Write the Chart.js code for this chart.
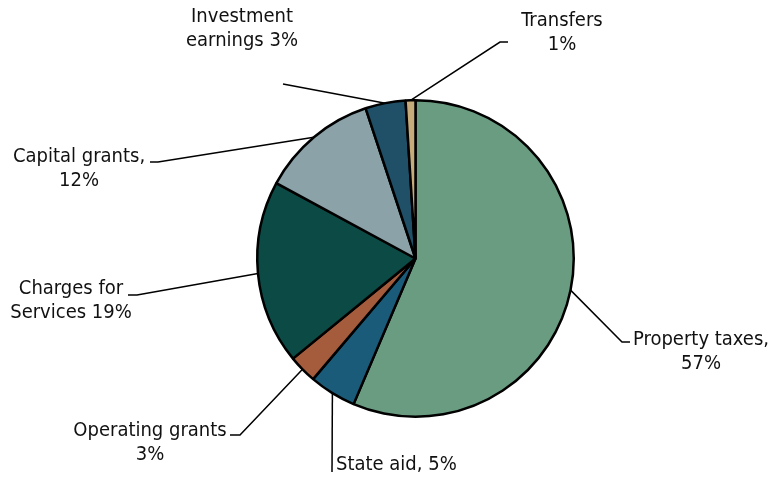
<!DOCTYPE html>
<html>
<head>
<meta charset="utf-8">
<script src="https://cdn.jsdelivr.net/npm/chart.js@4/dist/chart.umd.min.js"></script>
<style>
  html, body { margin: 0; padding: 0; background: #ffffff; }
  #wrap { width: 776px; height: 480px; }
</style>
</head>
<body>
<div id="wrap"><canvas id="c" width="776" height="480"></canvas></div>
<script>
// ---- data ----
const categories = ['Property taxes', 'State aid', 'Operating grants', 'Charges for Services', 'Capital grants', 'Investment earnings', 'Transfers'];
const values = [56.4, 4.8, 2.9, 18.8, 12.0, 4.1, 1.0];
const labelLines = [
  ['Property taxes,', '57%'],
  ['State aid, 5%'],
  ['Operating grants', '3%'],
  ['Charges for', 'Services 19%'],
  ['Capital grants,', '12%'],
  ['Investment', 'earnings 3%'],
  ['Transfers', '1%']
];
const colors = ['#6a9c82', '#1b5b7a', '#a55c3c', '#0c4a45', '#8aa2a8', '#1f5068', '#c6ab7b'];

// ---- label layout (leader line elbows / text placement) ----
const labelLayout = [
  { elbow: [622, 342], end: [630, 342], tx: 701, ty: 340, align: 'center' },
  { elbow: [332, 472], end: null,       tx: 336, ty: 465, align: 'left' },
  { elbow: [240, 435], end: [230, 435], tx: 150, ty: 431, align: 'center' },
  { elbow: [137, 295], end: [128, 295], tx: 71,  ty: 289, align: 'center' },
  { elbow: [158, 162], end: [150, 162], tx: 79,  ty: 157, align: 'center' },
  { elbow: [283, 84],  end: null,       tx: 242, ty: 17,  align: 'center' },
  { elbow: [500, 42],  end: [508, 42],  tx: 562, ty: 21,  align: 'center' }
];
const FONT = '20px "DejaVu Sans Condensed", "DejaVu Sans", sans-serif';
const LINE_H = 24;

const leaderPlugin = {
  id: 'leaders',
  afterDatasetsDraw(chart) {
    const ctx = chart.ctx;
    const meta = chart.getDatasetMeta(0);
    ctx.save();
    meta.data.forEach((arc, i) => {
      const p = arc.getProps(['x', 'y', 'startAngle', 'endAngle', 'outerRadius'], true);
      const mid = (p.startAngle + p.endAngle) / 2;
      const sx = p.x + Math.cos(mid) * p.outerRadius;
      const sy = p.y + Math.sin(mid) * p.outerRadius;
      const L = labelLayout[i];
      ctx.beginPath();
      ctx.strokeStyle = '#000';
      ctx.lineWidth = 1.5;
      ctx.moveTo(sx, sy);
      ctx.lineTo(L.elbow[0], L.elbow[1]);
      if (L.end) ctx.lineTo(L.end[0], L.end[1]);
      ctx.stroke();
      ctx.fillStyle = '#111111';
      ctx.font = FONT;
      ctx.textAlign = L.align;
      ctx.textBaseline = 'middle';
      labelLines[i].forEach((ln, k) => {
        ctx.fillText(ln, L.tx, L.ty + k * LINE_H);
      });
    });
    ctx.restore();
  }
};

new Chart(document.getElementById('c'), {
  type: 'pie',
  data: {
    labels: categories,
    datasets: [{
      data: values,
      backgroundColor: colors,
      borderColor: '#000000',
      borderWidth: 2.5
    }]
  },
  options: {
    responsive: false,
    animation: false,
    layout: { padding: { top: 99, bottom: 62, left: 256, right: 201 } },
    plugins: {
      legend: { display: false },
      tooltip: { enabled: false }
    }
  },
  plugins: [leaderPlugin]
});
</script>
</body>
</html>
